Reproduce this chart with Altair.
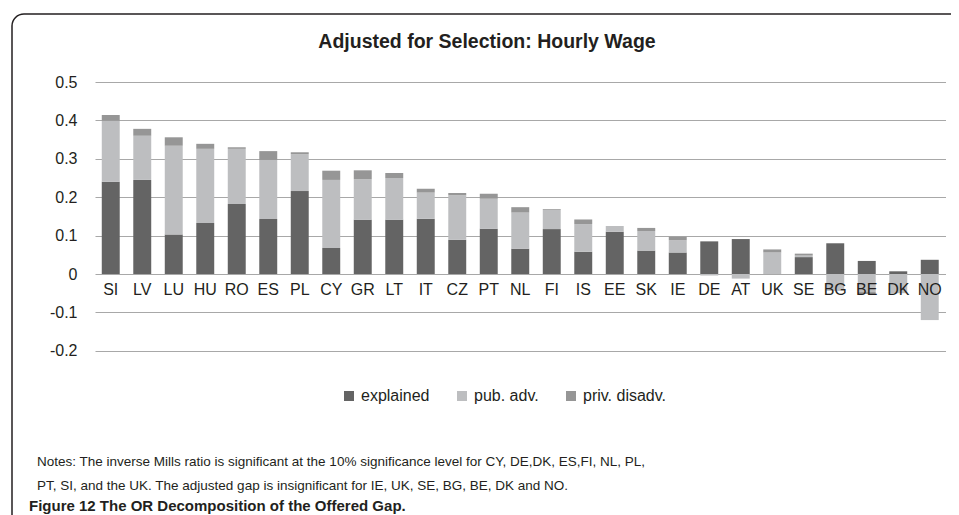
import altair as alt
import pandas as pd

countries = ["SI", "LV", "LU", "HU", "RO", "ES", "PL", "CY", "GR", "LT", "IT", "CZ", "PT", "NL",
             "FI", "IS", "EE", "SK", "IE", "DE", "AT", "UK", "SE", "BG", "BE", "DK", "NO"]
explained = [0.240, 0.245, 0.103, 0.133, 0.182, 0.143, 0.216, 0.068, 0.141, 0.141, 0.144, 0.089, 0.118, 0.066,
             0.117, 0.058, 0.110, 0.061, 0.056, 0.085, 0.091, 0.000, 0.044, 0.080, 0.034, 0.007, 0.037]
pub_adv = [0.159, 0.115, 0.231, 0.193, 0.144, 0.154, 0.096, 0.177, 0.106, 0.109, 0.068, 0.116, 0.078, 0.094,
           0.050, 0.072, 0.015, 0.051, 0.032, -0.004, -0.012, 0.056, 0.004, -0.044, -0.047, -0.050, -0.120]
priv_disadv = [0.015, 0.018, 0.022, 0.013, 0.004, 0.023, 0.005, 0.024, 0.023, 0.013, 0.010, 0.006, 0.013, 0.014,
               0.002, 0.012, 0.000, 0.008, 0.009, 0.000, 0.000, 0.008, 0.005, 0.000, -0.005, 0.000, 0.000]
series = ["explained", "pub. adv.", "priv. disadv."]
colors = ["#646464", "#bdbec0", "#969696"]
y_ticks = [-0.2, -0.1, 0, 0.1, 0.2, 0.3, 0.4, 0.5]

title_text = "Adjusted for Selection: Hourly Wage"
note_lines = [
    "Notes: The inverse Mills ratio is significant at the 10% significance level for CY, DE,DK, ES,FI, NL, PL,",
    "PT, SI, and the UK. The  adjusted gap is insignificant for IE, UK, SE, BG, BE, DK and NO.",
]
caption_text = "Figure 12 The OR Decomposition of the Offered Gap."

rows = []
for i, c in enumerate(countries):
    for k, vals in enumerate([explained, pub_adv, priv_disadv]):
        rows.append({"country": c, "series": series[k], "value": vals[i], "order": k})
df = pd.DataFrame(rows)

FONT = "Liberation Sans"
TXT = "#231f20"
W = 850.5
H = 268.8

bars = alt.Chart(df).mark_bar(strokeWidth=0).encode(
    x=alt.X("country:N", sort=countries,
            scale=alt.Scale(paddingInner=0.43, paddingOuter=0.215),
            axis=alt.Axis(title=None, labelAngle=0, domain=False, ticks=False, grid=False,
                          labelFontSize=16, labelFont=FONT, labelColor=TXT, labelPadding=7,
                          offset=-76.8, zindex=1)),
    y=alt.Y("value:Q", stack="zero",
            scale=alt.Scale(domain=[-0.2, 0.5], nice=False, zero=False),
            axis=alt.Axis(title=None, values=y_ticks, domain=False, ticks=False, grid=True,
                          gridColor="#a8a8a8", gridWidth=1.2,
                          labelExpr="datum.value == 0 ? '0' : toString(round(datum.value*10)/10)",
                          labelFontSize=16, labelFont=FONT, labelColor=TXT, labelPadding=18)),
    color=alt.Color("series:N", scale=alt.Scale(domain=series, range=colors),
                    legend=alt.Legend(orient="none", legendX=246, legendY=306, direction="horizontal",
                                      title=None, symbolType="square", symbolSize=100,
                                      symbolStrokeWidth=0, labelFontSize=16, labelFont=FONT,
                                      labelColor=TXT, columnPadding=24, labelOffset=4)),
    order=alt.Order("order:Q"),
)

one = pd.DataFrame({"t": [title_text]})
title = alt.Chart(one).mark_text(font=FONT, fontSize=19.5, fontWeight="bold", color=TXT,
                                 align="center", baseline="middle").encode(
    x=alt.value(392), y=alt.value(-40), text="t:N")

n1 = alt.Chart(pd.DataFrame({"t": [note_lines[0]]})).mark_text(
    font=FONT, fontSize=13.5, color=TXT, align="left", baseline="middle").encode(
    x=alt.value(-58), y=alt.value(380), text="t:N")
n2 = alt.Chart(pd.DataFrame({"t": [note_lines[1]]})).mark_text(
    font=FONT, fontSize=13.5, color=TXT, align="left", baseline="middle").encode(
    x=alt.value(-58), y=alt.value(404), text="t:N")
cap = alt.Chart(pd.DataFrame({"t": [caption_text]})).mark_text(
    font=FONT, fontSize=15, fontWeight="bold", color=TXT,
    align="left", baseline="middle").encode(
    x=alt.value(-66), y=alt.value(424), text="t:N")

frame = alt.Chart(pd.DataFrame({"a": [0]})).mark_rect(
    fillOpacity=0, stroke=TXT, strokeWidth=1.5, cornerRadius=12).encode(
    x=alt.value(-83), x2=alt.value(900), y=alt.value(-68), y2=alt.value(560))

chart = alt.layer(frame, bars, title, n1, n2, cap).properties(
    width=W, height=H,
    autosize=alt.AutoSizeParams(type="none"),
    padding={"left": 87, "top": 74, "right": 5.5, "bottom": 164.2},
    background="white",
).configure_view(stroke=None)

chart.save("out.html", embed_options={"renderer": "svg", "actions": False})
